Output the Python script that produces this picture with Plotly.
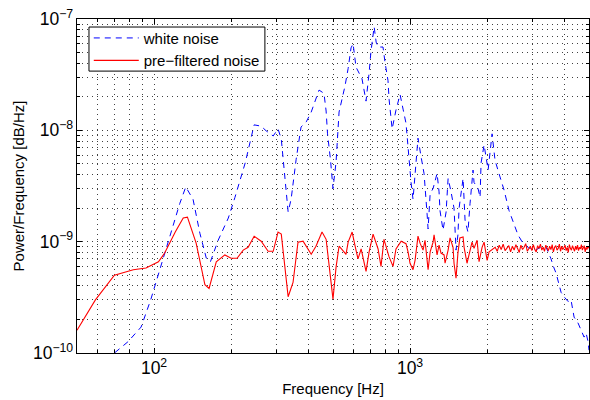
import math
import plotly.graph_objects as go

# ---------------- data ----------------
white_freq = [50, 70, 79, 89, 97, 107, 117, 126, 133, 142, 151, 160, 166, 178, 195, 207,
              227, 246, 262, 274, 292, 305, 314, 322, 334, 343, 359, 375, 393, 411, 441,
              461, 470, 476, 489, 500, 514, 528, 542, 557, 573, 588, 599, 615, 649, 673,
              692, 704, 724, 737, 750, 784, 798, 820, 828, 851, 881, 914, 939, 964, 982,
              991, 1009, 1027, 1046, 1074, 1104, 1134, 1165, 1176, 1198, 1230, 1275, 1298,
              1309, 1345, 1383, 1408, 1446, 1485, 1512, 1538, 1554, 1611, 1640, 1683, 1715,
              1762, 1778, 1843, 1877, 1894, 1946, 2018, 2091, 2147, 2224, 2330, 2436, 2526,
              2640, 2760, 2907, 3091, 3235, 3386, 3545, 3650, 3720, 3821, 3891, 3996, 4141,
              4253, 4372, 4530, 4654, 4783, 4870, 4960, 5000]
white_psd = [3.3e-11, 1.0e-10, 1.26e-10, 1.71e-10, 3.0e-10, 6.4e-10, 1.27e-9, 2.2e-9, 3.1e-9,
             2.4e-9, 1.19e-9, 7.1e-10, 6.6e-10, 1.03e-9, 1.63e-9, 2.5e-9, 5.1e-9, 1.12e-8,
             1.09e-8, 9.9e-9, 8.9e-9, 1.03e-8, 8.35e-9, 4.2e-9, 1.85e-9, 2.4e-9, 5.5e-9,
             1.07e-8, 1.19e-8, 1.46e-8, 2.3e-8, 2.15e-8, 1.49e-8, 9.3e-9, 5.4e-9, 3.0e-9,
             5.2e-9, 1.46e-8, 1.87e-8, 2.5e-8, 3.6e-8, 5.5e-8, 6.0e-8, 3.7e-8, 2.9e-8,
             1.83e-8, 3.3e-8, 5.2e-8, 8.5e-8, 6.2e-8, 5.6e-8, 5.6e-8, 4.1e-8, 2.8e-8,
             1.9e-8, 1.03e-8, 1.52e-8, 2.1e-8, 1.55e-8, 1.16e-8, 7.1e-9, 5.2e-9, 3.4e-9,
             2.4e-9, 4.1e-9, 8.5e-9, 5.8e-9, 4.1e-9, 1.8e-9, 1.3e-9, 2.7e-9, 3.0e-9, 4.1e-9,
             2.8e-9, 1.9e-9, 1.27e-9, 1.85e-9, 3.7e-9, 2.8e-9, 2.0e-9, 8.4e-10, 1.15e-9,
             2.0e-9, 3.7e-9, 1.56e-9, 1.22e-9, 2.2e-9, 4.4e-9, 3.4e-9, 3.0e-9, 2.5e-9,
             5.1e-9, 7.4e-9, 4.4e-9, 9.3e-9, 5.4e-9, 4.1e-9, 2.9e-9, 1.9e-9, 1.5e-9,
             1.15e-9, 9.7e-10, 8.8e-10, 8.4e-10, 8.9e-10, 9.1e-10, 7.1e-10, 5.8e-10, 5.2e-10,
             4.1e-10, 3.5e-10, 3.2e-10, 2.9e-10, 3.0e-10, 2.1e-10, 1.86e-10, 1.61e-10,
             1.39e-10, 1.51e-10, 1.26e-10, 1.06e-10]

filt_freq = [50, 59, 70, 83, 93, 104, 110, 121, 130, 135, 146, 158, 164, 175, 189, 200, 211,
             223, 233, 246, 262, 279, 292, 305, 314, 322, 334, 349, 365, 382, 400, 411, 429,
             453, 470, 483, 500, 514, 528, 552, 562, 573, 594, 610, 626, 644, 673, 692, 717,
             750, 770, 791, 828, 858, 881, 923, 964, 982, 1000, 1027, 1046, 1074, 1094, 1124,
             1144, 1176, 1198, 1230, 1241, 1275, 1298, 1321, 1358, 1370, 1408, 1433, 1472,
             1485, 1512, 1538, 1565, 1611, 1626, 1669, 1701, 1746, 1778, 1827, 1860, 1911,
             1946, 2000, 2036, 2110,
             2150, 2190, 2230, 2270, 2310, 2350, 2390, 2430, 2470, 2510, 2550, 2590, 2630,
             2670, 2710, 2750, 2790, 2830, 2870, 2910, 2950, 2990, 3030, 3070, 3110, 3150,
             3190, 3230, 3270, 3310, 3350, 3390, 3430, 3470, 3510, 3550, 3590, 3630, 3670,
             3710, 3750, 3790, 3830, 3870, 3910, 3950, 3990, 4030, 4070, 4110, 4150, 4190,
             4230, 4270, 4310, 4350, 4390, 4430, 4470, 4510, 4550, 4590, 4630, 4670, 4710,
             4750, 4790, 4830, 4870, 4910, 4950, 4990, 5000]
filt_psd = [1.6e-10, 3.0e-10, 5.0e-10, 5.6e-10, 5.8e-10, 6.6e-10, 7.9e-10, 1.22e-9, 1.63e-9,
            1.66e-9, 9.7e-10, 4.1e-10, 3.8e-10, 6.6e-10, 7.6e-10, 7.1e-10, 7.1e-10, 8.4e-10,
            8.9e-10, 1.12e-9, 1.01e-9, 8.2e-10, 8.2e-10, 1.22e-9, 1.17e-9, 7.0e-10, 3.2e-10,
            4.3e-10, 9.9e-10, 1.01e-9, 8.6e-10, 7.7e-10, 9.1e-10, 1.22e-9, 1.05e-9, 6.0e-10,
            3.05e-10, 5.9e-10, 9.1e-10, 8.1e-10, 7.7e-10, 9.9e-10, 1.22e-9, 9.1e-10, 7.0e-10,
            8.6e-10, 5.4e-10, 8.1e-10, 1.17e-9, 8.6e-10, 6.0e-10, 1.05e-9, 7.3e-10, 6.0e-10,
            8.6e-10, 1.01e-9, 9.6e-10, 8.1e-10, 6.4e-10, 5.6e-10, 6.8e-10, 1.12e-9, 9.7e-10,
            8.4e-10, 1.03e-9, 5.6e-10, 8.1e-10, 9.9e-10, 1.15e-9, 7.6e-10, 9.3e-10, 7.9e-10,
            7.6e-10, 6.4e-10, 8.4e-10, 1.08e-9, 8.9e-10, 6.4e-10, 4.7e-10, 7.9e-10, 1.08e-9,
            1.1e-9, 8.9e-10, 6.4e-10, 7.9e-10, 9.9e-10, 8.7e-10, 1.03e-9, 6.6e-10, 8.9e-10,
            9.9e-10, 6.8e-10, 8.1e-10, 8.7e-10,
            8.9e-10, 8.2e-10, 9.3e-10, 8.5e-10, 9.5e-10, 8.3e-10, 8.8e-10, 9.2e-10, 8.1e-10,
            9.1e-10, 8.4e-10, 9.4e-10, 8.7e-10, 8.0e-10, 9.3e-10, 8.5e-10, 8.9e-10, 9.6e-10,
            8.2e-10, 8.8e-10, 9.1e-10, 8.3e-10, 9.4e-10, 8.5e-10, 8.1e-10, 9.2e-10, 8.7e-10,
            9.5e-10, 8.4e-10, 8.9e-10, 8.2e-10, 9.3e-10, 8.8e-10, 8.3e-10, 9.1e-10, 8.5e-10,
            9.4e-10, 8.1e-10, 8.9e-10, 9.2e-10, 8.4e-10, 8.7e-10, 9.5e-10, 8.2e-10, 9.1e-10,
            8.5e-10, 8.8e-10, 9.3e-10, 8.3e-10, 8.9e-10, 8.0e-10, 9.4e-10, 8.7e-10, 8.4e-10,
            9.2e-10, 8.8e-10, 8.2e-10, 9.1e-10, 8.5e-10, 9.3e-10, 8.3e-10, 8.9e-10, 8.6e-10,
            9.4e-10, 8.4e-10, 8.8e-10, 9.2e-10, 8.1e-10, 8.9e-10, 8.5e-10, 9.1e-10, 8.7e-10]

x_limits = [50, 5000]
y_limits = [1e-10, 1e-7]

# ---------------- figure ----------------
fig = go.Figure()
fig.add_trace(go.Scatter(x=white_freq, y=white_psd, mode="lines", name="white noise",
                         line=dict(color="rgb(0,0,255)", width=1, dash="6px,5px")))
fig.add_trace(go.Scatter(x=filt_freq, y=filt_psd, mode="lines", name="pre\u2212filtered noise",
                         line=dict(color="rgb(255,0,0)", width=1.1)))

font_family = "Liberation Sans, Arial, sans-serif"
grid_dash = "1px,4px"
grid_col = "rgba(0,0,0,0.75)"

axis_common = dict(
    type="log", showline=True, linecolor="black", linewidth=1, mirror="ticks",
    ticks="inside", ticklen=5, tickcolor="black", dtick=1,
    exponentformat="power", showexponent="all",
    showgrid=True, gridcolor=grid_col, griddash=grid_dash, gridwidth=1,
    zeroline=False,
    tickfont=dict(family=font_family, size=14, color="black"),
    minor=dict(dtick="D1", ticks="inside", ticklen=3, tickcolor="black",
               showgrid=True, gridcolor=grid_col, griddash=grid_dash, gridwidth=1),
)

fig.update_xaxes(**axis_common, range=[math.log10(x_limits[0]), math.log10(x_limits[1])],
                 title=dict(text="Frequency [Hz]", font=dict(family=font_family, size=15, color="black"),
                            standoff=6))
fig.update_yaxes(**axis_common, range=[math.log10(y_limits[0]), math.log10(y_limits[1])],
                 title=dict(text="Power/Frequency [dB/Hz]", font=dict(family=font_family, size=15, color="black"),
                            standoff=4))

# legend frame (drawn as a shape so its size matches the reference box)
fig.add_shape(type="rect", xref="paper", yref="paper",
              x0=0.0234, x1=0.367, y0=0.844, y1=0.976,
              line=dict(color="black", width=1), fillcolor="white", layer="above")

fig.update_layout(
    width=590, height=400,
    margin=dict(l=77, r=1, t=19, b=47),
    paper_bgcolor="white", plot_bgcolor="white",
    font=dict(family=font_family, size=14, color="black"),
    showlegend=True,
    legend=dict(x=0.023, y=0.992, xanchor="left", yanchor="top",
                bgcolor="rgba(0,0,0,0)", borderwidth=0,
                font=dict(family=font_family, size=15, color="black"),
                itemwidth=45, tracegroupgap=0),
)

fig.write_html("out.html")
